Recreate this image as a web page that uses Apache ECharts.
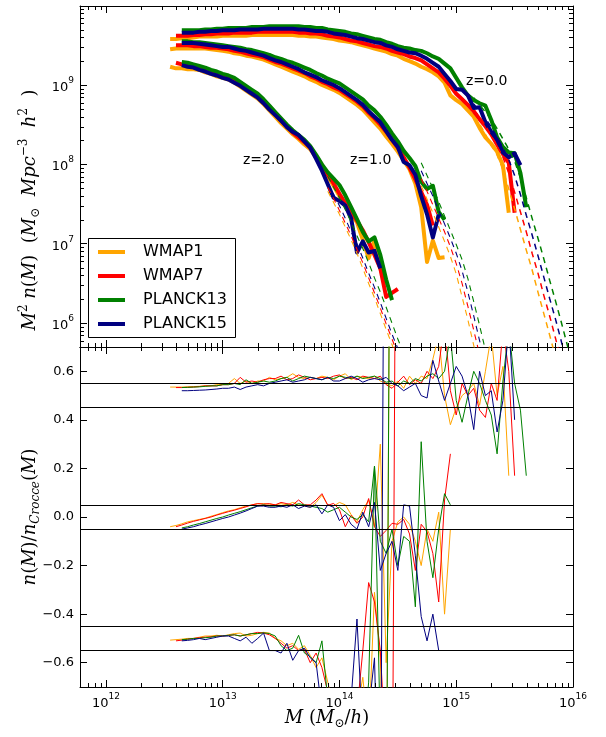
<!DOCTYPE html>
<html>
<head>
<meta charset="utf-8">
<script src="https://cdn.jsdelivr.net/npm/echarts@6/dist/echarts.min.js"></script>
<style>
  html, body { margin: 0; padding: 0; background: #fff; }
  #main { width: 606px; height: 737px; }
</style>
</head>
<body>
<div id="main"></div>
<script>
// mass bins, log10(M / (Msun/h))
var logM = [12.55,12.60,12.65,12.70,12.75,12.80,12.85,12.90,12.95,13.00,
  13.05,13.10,13.15,13.20,13.25,13.30,13.35,13.40,13.45,13.50,
  13.55,13.60,13.65,13.70,13.75,13.80,13.85,13.90,13.95,14.00,
  14.05,14.10,14.15,14.20,14.25,14.30,14.35,14.40,14.45,14.50,
  14.55,14.60,14.65,14.70,14.75,14.80,14.85,14.90,14.95,15.00,
  15.05,15.10,15.15,15.20,15.25,15.30,15.35,15.40,15.45,15.50,
  15.55,15.60,15.65,15.70,15.75,15.80,15.85,15.90,15.95,16.00];

var cosmologies = ['WMAP1', 'WMAP7', 'PLANCK13', 'PLANCK15'];
var colors = ['#ffa500', '#ff0000', '#008000', '#000080'];

// first bin index of each simulation curve (WMAP1, WMAP7, PLANCK13, PLANCK15)
var simStart = [0, 1, 2, 2];

// log10 of M^2 n(M), simulations, z = 0
var simZ0WMAP1 = [9.58,9.58,9.59,9.59,9.60,9.61,9.61,9.61,9.61,9.62,
  9.62,9.62,9.62,9.62,9.63,9.63,9.63,9.63,9.63,9.63,
  9.63,9.63,9.62,9.62,9.61,9.61,9.60,9.59,9.58,9.56,
  9.55,9.54,9.52,9.50,9.48,9.46,9.44,9.42,9.39,9.37,
  9.33,9.30,9.27,9.23,9.20,9.16,9.11,9.03,8.87,8.81,
  8.76,8.68,8.60,8.46,8.34,8.26,8.16,7.99,7.39];
var simZ0WMAP7 = [9.62,9.62,9.62,9.63,9.63,9.64,9.64,9.65,9.65,
  9.65,9.66,9.66,9.66,9.66,9.67,9.67,9.67,9.67,9.67,
  9.67,9.67,9.66,9.66,9.65,9.65,9.64,9.62,9.61,9.60,
  9.58,9.56,9.55,9.53,9.51,9.49,9.48,9.46,9.43,9.41,
  9.39,9.36,9.34,9.31,9.26,9.21,9.16,9.08,8.99,8.89,
  8.82,8.75,8.67,8.57,8.48,8.38,8.25,8.13,8.02,7.39];
var simZ0PLANCK13 = [9.69,9.69,9.69,9.69,9.70,9.70,9.71,9.71,
  9.72,9.72,9.72,9.72,9.73,9.73,9.73,9.74,9.74,9.74,
  9.74,9.74,9.74,9.73,9.73,9.72,9.72,9.70,9.69,9.68,
  9.67,9.65,9.64,9.62,9.60,9.58,9.57,9.54,9.52,9.49,
  9.47,9.46,9.44,9.43,9.40,9.36,9.33,9.27,9.21,9.09,
  8.97,8.87,8.81,8.77,8.74,8.56,8.34,8.22,8.15,8.14,
  7.89,7.46];
var simZ0PLANCK15 = [9.66,9.66,9.66,9.67,9.67,9.68,9.68,9.69,
  9.69,9.69,9.70,9.70,9.70,9.70,9.71,9.71,9.71,9.71,
  9.71,9.71,9.70,9.70,9.69,9.68,9.68,9.67,9.65,9.64,
  9.63,9.61,9.59,9.58,9.56,9.54,9.53,9.50,9.48,9.45,
  9.43,9.41,9.40,9.37,9.33,9.28,9.23,9.14,9.05,8.95,
  8.94,8.87,8.71,8.72,8.53,8.41,8.31,8.15,8.09,8.14,
  7.99];

// z = 1
var simZ1WMAP1 = [9.45,9.46,9.46,9.46,9.46,9.46,9.46,9.45,9.44,9.43,
  9.42,9.40,9.39,9.37,9.36,9.34,9.32,9.29,9.26,9.23,
  9.20,9.17,9.14,9.11,9.07,9.04,9.00,8.97,8.94,8.90,
  8.85,8.80,8.75,8.69,8.61,8.53,8.45,8.35,8.26,8.16,
  8.05,7.94,7.76,7.46,6.77,7.04,6.82,6.83];
var simZ1WMAP7 = [9.50,9.50,9.50,9.49,9.49,9.48,9.47,9.47,9.46,
  9.45,9.43,9.42,9.40,9.38,9.37,9.35,9.32,9.29,9.27,
  9.24,9.21,9.18,9.15,9.11,9.08,9.04,9.01,8.97,8.94,
  8.89,8.84,8.79,8.73,8.65,8.58,8.50,8.41,8.31,8.21,
  8.09,7.96,7.81,7.65,7.49,7.23];
var simZ1PLANCK13 = [9.55,9.55,9.54,9.54,9.53,9.52,9.51,9.50,
  9.49,9.48,9.47,9.45,9.44,9.42,9.40,9.38,9.35,9.33,
  9.30,9.28,9.25,9.22,9.19,9.15,9.12,9.08,9.05,9.02,
  8.97,8.92,8.87,8.82,8.74,8.68,8.60,8.50,8.39,8.29,
  8.17,8.08,7.98,7.78,7.69,7.73,7.40,7.30];
var simZ1PLANCK15 = [9.53,9.53,9.53,9.52,9.51,9.50,9.49,9.48,
  9.48,9.46,9.44,9.43,9.41,9.39,9.37,9.34,9.31,9.29,
  9.26,9.23,9.20,9.16,9.13,9.10,9.06,9.03,9.00,8.96,
  8.91,8.86,8.81,8.75,8.67,8.60,8.53,8.42,8.31,8.22,
  8.03,7.99,7.87,7.60,7.37,7.08,7.37];

// z = 2
var simZ2WMAP1 = [9.23,9.21,9.21,9.20,9.20,9.19,9.16,9.14,9.11,9.09,
  9.07,9.03,8.98,8.93,8.88,8.83,8.76,8.68,8.60,8.52,
  8.45,8.38,8.32,8.25,8.19,8.09,7.97,7.85,7.73,7.60,
  7.49,7.37,7.27,7.05,6.82,7.05,6.69,6.48];
var simZ2WMAP7 = [9.28,9.26,9.25,9.23,9.22,9.19,9.17,9.14,9.12,
  9.09,9.06,9.01,8.96,8.90,8.85,8.78,8.71,8.63,8.55,
  8.48,8.40,8.34,8.28,8.21,8.10,7.99,7.87,7.76,7.63,
  7.51,7.40,7.29,7.17,7.02,6.86,6.69,6.33,6.38,6.43];
var simZ2PLANCK13 = [9.29,9.28,9.26,9.24,9.22,9.19,9.17,9.14,
  9.12,9.09,9.04,8.99,8.94,8.89,8.82,8.74,8.66,8.58,
  8.50,8.43,8.37,8.31,8.23,8.12,8.00,7.90,7.82,7.74,
  7.61,7.46,7.31,7.15,7.03,7.08,6.86,6.55,6.29];
var simZ2PLANCK15 = [9.25,9.23,9.22,9.19,9.17,9.14,9.12,9.09,
  9.07,9.03,8.99,8.94,8.89,8.84,8.77,8.69,8.62,8.55,
  8.47,8.41,8.37,8.29,8.21,8.07,7.92,7.75,7.58,7.54,
  7.48,7.32,6.89,7.03,6.89,6.91,6.69];

// log10 of M^2 n(M), Crocce fit (dashed), first bin index per redshift
var fitStart = [52, 43, 27];
var fitZ0WMAP1 = [8.61,8.51,8.38,8.24,8.12,7.93,7.69,7.44,7.18,6.92,6.67,6.39,6.12,5.85,5.57,5.28,5.03];
var fitZ0WMAP7 = [8.68,8.60,8.49,8.36,8.23,8.09,7.89,7.65,7.40,7.15,6.88,6.63,6.35,6.09,5.81,5.52,5.24,4.99];
var fitZ0PLANCK13 = [8.84,8.75,8.66,8.57,8.45,8.32,8.19,8.04,7.83,7.58,7.32,7.07,6.81,6.54,6.28,6.01,5.73,5.45];
var fitZ0PLANCK15 = [8.76,8.67,8.58,8.47,8.34,8.21,8.06,7.86,7.62,7.36,7.11,6.85,6.58,6.31,6.05,5.77,5.48,5.22];
var fitZ1WMAP1 = [7.73,7.56,7.39,7.21,7.03,6.84,6.62,6.33,6.04,5.72,5.41];
var fitZ1WMAP7 = [7.82,7.66,7.49,7.32,7.15,6.96,6.75,6.50,6.21,5.91,5.60,5.28];
var fitZ1PLANCK13 = [8.02,7.86,7.70,7.53,7.35,7.17,6.99,6.80,6.56,6.27,5.97,5.66,5.34];
var fitZ1PLANCK15 = [7.92,7.76,7.60,7.42,7.25,7.07,6.88,6.66,6.39,6.09,5.78,5.47];
var fitZ2WMAP1 = [7.66,7.52,7.37,7.21,7.05,6.88,6.69,6.50,6.32,6.12,5.92,5.73,5.54,5.34];
var fitZ2WMAP7 = [7.71,7.57,7.42,7.26,7.10,6.93,6.76,6.57,6.38,6.19,5.99,5.80,5.61,5.41];
var fitZ2PLANCK13 = [7.85,7.71,7.58,7.43,7.27,7.10,6.94,6.76,6.57,6.39,6.20,6.00,5.80,5.61,5.42];
var fitZ2PLANCK15 = [7.76,7.62,7.48,7.32,7.15,7.00,6.82,6.63,6.45,6.26,6.06,5.86,5.68,5.48];

// lower panel: n/n_Crocce - 1, shifted by +0.5 (z=0), 0 (z=1), -0.5 (z=2)
var ratioZ0WMAP1 = [0.535,0.535,0.535,0.536,0.537,0.538,0.54,0.54,0.545,0.545,
  0.55,0.57,0.55,0.56,0.55,0.56,0.56,0.575,0.565,0.57,
  0.575,0.59,0.575,0.57,0.575,0.57,0.58,0.575,0.565,0.58,
  0.59,0.565,0.58,0.575,0.57,0.58,0.56,0.55,0.54,0.56,
  0.53,0.58,0.55,0.58,0.57,0.65,0.75,0.5,0.38,0.45,
  0.5,0.52,0.55,0.46,0.6,0.75,0.5,0.62,0.17];
var ratioZ0WMAP7 = [0.533,0.533,0.534,0.535,0.537,0.54,0.54,0.54,0.545,
  0.545,0.55,0.575,0.555,0.56,0.555,0.565,0.57,0.57,0.58,
  0.565,0.57,0.585,0.575,0.565,0.57,0.575,0.57,0.58,0.585,
  0.57,0.575,0.565,0.58,0.575,0.57,0.58,0.545,0.53,0.555,
  0.58,0.545,0.565,0.55,0.6,0.57,0.62,0.8,0.52,0.42,
  0.55,0.5,0.53,0.44,0.41,0.55,0.48,0.78,0.6,0.17];
var ratioZ0PLANCK13 = [0.533,0.534,0.535,0.536,0.538,0.54,0.54,0.545,
  0.545,0.55,0.545,0.565,0.55,0.555,0.56,0.555,0.56,0.57,
  0.575,0.56,0.57,0.58,0.575,0.57,0.565,0.575,0.57,0.58,
  0.575,0.57,0.58,0.57,0.575,0.58,0.57,0.555,0.56,0.54,
  0.56,0.55,0.57,0.56,0.58,0.59,0.57,0.6,0.75,0.48,
  0.39,0.5,0.6,0.55,0.48,0.42,0.26,0.56,0.78,0.55,
  0.44,0.17];
var ratioZ0PLANCK15 = [0.52,0.52,0.521,0.522,0.523,0.525,0.527,0.53,
  0.53,0.535,0.525,0.535,0.54,0.545,0.54,0.55,0.555,0.56,
  0.565,0.555,0.56,0.565,0.575,0.57,0.565,0.575,0.56,0.56,
  0.57,0.58,0.57,0.555,0.565,0.57,0.565,0.575,0.55,0.54,
  0.52,0.535,0.55,0.5,0.49,0.645,0.56,0.48,0.55,0.62,
  0.58,0.5,0.36,0.6,0.5,0.52,0.35,0.48,0.8,0.4];

var ratioZ1WMAP1 = [-0.04,-0.035,-0.028,-0.02,-0.015,-0.01,-0.005,0.003,0.01,0.018,
  0.025,0.03,0.038,0.045,0.05,0.055,0.055,0.053,0.05,0.055,
  0.05,0.06,0.05,0.045,0.04,0.06,0.09,0.05,0.045,0.06,
  0.05,0.01,-0.02,0.03,0.07,-0.04,0.3,-0.6,-0.1,-0.02,
  0.0,-0.03,-0.1,-0.2,-0.05,-0.1,0.02,-0.4,-0.05];
var ratioZ1WMAP7 = [-0.04,-0.033,-0.025,-0.018,-0.012,-0.006,0.0,0.008,0.015,
  0.022,0.028,0.035,0.042,0.05,0.055,0.053,0.055,0.05,0.06,
  0.055,0.05,0.07,0.05,0.05,0.07,0.096,0.048,0.056,0.03,
  -0.04,0.007,-0.026,0.0,0.076,-0.04,-0.08,-0.055,-0.026,-0.03,
  -0.01,-0.07,-0.22,-0.03,-0.06,-0.15,-0.35,0.07,0.26];
var ratioZ1PLANCK13 = [-0.045,-0.04,-0.033,-0.027,-0.02,-0.013,-0.006,0.0,
  0.008,0.015,0.022,0.03,0.038,0.045,0.05,0.045,0.045,0.042,
  0.05,0.045,0.055,0.05,0.045,0.04,0.035,0.02,0.03,0.04,
  0.02,0.0,-0.01,0.01,-0.02,0.21,-0.1,-0.15,-0.05,-0.2,
  -0.08,-0.1,-0.37,0.31,-0.1,-0.25,-0.05,0.096,0.05];
var ratioZ1PLANCK15 = [-0.05,-0.045,-0.04,-0.033,-0.027,-0.02,-0.013,-0.006,
  0.0,0.008,0.016,0.025,0.035,0.045,0.045,0.04,0.04,0.045,
  0.04,0.05,0.035,0.045,0.04,0.05,0.013,0.05,0.04,-0.015,
  0.01,-0.03,-0.05,0.02,-0.04,0.06,-0.22,-0.15,-0.1,-0.22,
  0.05,0.045,-0.16,-0.41,-0.51,-0.40,-0.55];

var ratioZ2WMAP1 = [-0.507,-0.505,-0.503,-0.50,-0.50,-0.495,-0.49,-0.49,-0.487,-0.49,
  -0.485,-0.48,-0.478,-0.49,-0.487,-0.48,-0.475,-0.478,-0.5,-0.51,
  -0.53,-0.52,-0.545,-0.53,-0.57,-0.62,-0.58,-0.68,-0.78,-0.9,
  -0.85,-0.95,-0.8,-0.66,-0.9,-0.31,-0.58,-1.5,3.0];
var ratioZ2WMAP7 = [-0.51,-0.507,-0.503,-0.50,-0.497,-0.495,-0.493,-0.49,-0.49,
  -0.488,-0.485,-0.49,-0.485,-0.48,-0.475,-0.478,-0.485,-0.5,-0.52,
  -0.54,-0.53,-0.55,-0.545,-0.6,-0.56,-0.62,-0.72,-0.9,-1.0,
  -0.9,-0.75,-0.8,-0.55,-0.27,-0.35,-0.55,-1.0,-1.5,3.0];
var ratioZ2PLANCK13 = [-0.505,-0.503,-0.50,-0.50,-0.497,-0.495,-0.49,-0.49,
  -0.487,-0.485,-0.49,-0.485,-0.48,-0.48,-0.477,-0.48,-0.49,-0.53,
  -0.55,-0.54,-0.487,-0.56,-0.575,-0.6,-0.51,-0.75,-0.95,-1.0,
  -0.9,-0.8,-0.85,-0.95,-0.68,0.21,-0.9,-1.5,3.0];
var ratioZ2PLANCK15 = [-0.51,-0.508,-0.505,-0.50,-0.505,-0.50,-0.495,-0.49,
  -0.49,-0.5,-0.51,-0.495,-0.52,-0.5,-0.478,-0.55,-0.55,-0.56,
  -0.52,-0.59,-0.55,-0.54,-0.58,-0.6,-0.8,-0.9,-1.0,-0.95,
  -0.9,-0.75,-0.42,-0.9,-0.8,-0.58,-1.5,3.0];

var refLevels = [0.55, 0.45, 0.05, -0.05, -0.45, -0.55];

var simCurves = [
  [simZ0WMAP1, simZ0WMAP7, simZ0PLANCK13, simZ0PLANCK15],
  [simZ1WMAP1, simZ1WMAP7, simZ1PLANCK13, simZ1PLANCK15],
  [simZ2WMAP1, simZ2WMAP7, simZ2PLANCK13, simZ2PLANCK15]
];
var fitCurves = [
  [fitZ0WMAP1, fitZ0WMAP7, fitZ0PLANCK13, fitZ0PLANCK15],
  [fitZ1WMAP1, fitZ1WMAP7, fitZ1PLANCK13, fitZ1PLANCK15],
  [fitZ2WMAP1, fitZ2WMAP7, fitZ2PLANCK13, fitZ2PLANCK15]
];
var ratioCurves = [
  [ratioZ0WMAP1, ratioZ0WMAP7, ratioZ0PLANCK13, ratioZ0PLANCK15],
  [ratioZ1WMAP1, ratioZ1WMAP7, ratioZ1PLANCK13, ratioZ1PLANCK15],
  [ratioZ2WMAP1, ratioZ2WMAP7, ratioZ2PLANCK13, ratioZ2PLANCK15]
];

function pts(start, vals, isLog) {
  return vals.map(function (v, i) {
    return [Math.pow(10, logM[start + i]), isLog ? Math.pow(10, v) : v];
  });
}

var myChart = echarts.init(document.getElementById('main'), null, { renderer: 'canvas' });

var FONT = 'DejaVu Sans';
var SERIF = 'DejaVu Serif';

function logLabel(v) {
  var e = Math.log10(v);
  if (Math.abs(e - Math.round(e)) > 1e-6) return '';
  return '{b|10}{s|' + Math.round(e) + '}';
}
var logRich = {
  b: { fontFamily: FONT, fontSize: 13, color: '#000', verticalAlign: 'bottom', lineHeight: 18 },
  s: { fontFamily: FONT, fontSize: 9, color: '#000', verticalAlign: 'top', lineHeight: 18 }
};
function linLabel(v) {
  return (v < 0 ? '\u2212' : '') + Math.abs(v).toFixed(1);
}

function xAxisCfg(grid, pos, labels) {
  return {
    type: 'log', logBase: 10, gridIndex: grid, position: pos,
    min: 6e11, max: 1e16,
    axisLine: { show: true, onZero: false, lineStyle: { color: '#000', width: 1 } },
    axisTick: { show: true, inside: true, length: 7, lineStyle: { color: '#000', width: 1 } },
    axisLabel: { show: labels, margin: 5, formatter: logLabel, rich: logRich },
    splitLine: { show: false }
  };
}
function yLogCfg(pos, labels) {
  return {
    type: 'log', logBase: 10, gridIndex: 0, position: pos,
    min: 5e5, max: 9.9e9,
    axisLine: { show: true, lineStyle: { color: '#000', width: 1 } },
    axisTick: { show: true, inside: true, length: 7, lineStyle: { color: '#000', width: 1 } },
    axisLabel: { show: labels, margin: 6, formatter: logLabel, rich: logRich },
    splitLine: { show: false }
  };
}
function yLinCfg(pos, labels) {
  return {
    type: 'value', gridIndex: 1, position: pos,
    min: -0.7, max: 0.7, splitNumber: 7,
    axisLine: { show: true, onZero: false, lineStyle: { color: '#000', width: 1 } },
    axisTick: { show: true, inside: true, length: 7, lineStyle: { color: '#000', width: 1 } },
    axisLabel: { show: labels, margin: 6, showMinLabel: false, showMaxLabel: false,
      formatter: linLabel, fontFamily: FONT, fontSize: 13, color: '#000' },
    splitLine: { show: false }
  };
}

// minor ticks on log axes (matplotlib style 2..9 x 10^n)
var xMinor = [];
var yMinor = [];
for (var e = 11; e <= 15; e++) {
  for (var m = 2; m <= 9; m++) {
    var v = m * Math.pow(10, e);
    if (v > 6e11 && v < 1e16) xMinor.push(v);
  }
}
for (var e2 = 5; e2 <= 9; e2++) {
  for (var m2 = 2; m2 <= 9; m2++) {
    var w = m2 * Math.pow(10, e2);
    if (w > 5e5 && w < 9.9e9) yMinor.push(w);
  }
}
function minorX(params, api) {
  var cs = params.coordSys;
  var x = Math.round(api.coord([api.value(0), api.value(1)])[0]) + 0.5;
  return { type: 'group', children: [
    { type: 'line', shape: { x1: x, y1: cs.y + cs.height, x2: x, y2: cs.y + cs.height - 4 }, style: { stroke: '#000', lineWidth: 1 } },
    { type: 'line', shape: { x1: x, y1: cs.y, x2: x, y2: cs.y + 4 }, style: { stroke: '#000', lineWidth: 1 } }
  ] };
}
function minorY(params, api) {
  var cs = params.coordSys;
  var y = Math.round(api.coord([api.value(0), api.value(1)])[1]) + 0.5;
  return { type: 'group', children: [
    { type: 'line', shape: { x1: cs.x, y1: y, x2: cs.x + 4, y2: y }, style: { stroke: '#000', lineWidth: 1 } },
    { type: 'line', shape: { x1: cs.x + cs.width, y1: y, x2: cs.x + cs.width - 4, y2: y }, style: { stroke: '#000', lineWidth: 1 } }
  ] };
}

var series = [];

series.push({
  type: 'line', xAxisIndex: 2, yAxisIndex: 2, data: [], symbol: 'none', silent: true,
  markLine: {
    silent: true, symbol: ['none', 'none'], label: { show: false },
    lineStyle: { color: '#000', width: 1, type: 'solid' },
    data: refLevels.map(function (r) { return { yAxis: r }; })
  }
});

for (var c = 0; c < 4; c++) {
  for (var z = 0; z < 3; z++) {
    series.push({
      type: 'line', name: cosmologies[c], xAxisIndex: 0, yAxisIndex: 0,
      data: pts(simStart[c], simCurves[z][c], true),
      symbol: 'none', silent: true, clip: true, z: 3,
      lineStyle: { color: colors[c], width: 4, join: 'round' }
    });
    series.push({
      type: 'line', name: cosmologies[c] + ' ratio', xAxisIndex: 2, yAxisIndex: 2,
      data: pts(simStart[c], ratioCurves[z][c], false),
      symbol: 'none', silent: true, clip: true, z: 3,
      lineStyle: { color: colors[c], width: 1, join: 'round' }
    });
  }
}
for (var c2 = 0; c2 < 4; c2++) {
  for (var z2 = 0; z2 < 3; z2++) {
    series.push({
      type: 'line', name: cosmologies[c2] + ' fit', xAxisIndex: 0, yAxisIndex: 0,
      data: pts(fitStart[z2], fitCurves[z2][c2], true),
      symbol: 'none', silent: true, clip: true, z: 4,
      lineStyle: { color: colors[c2], width: z2 === 0 ? 1.5 : 1.1, type: [6, 5] }
    });
  }
}

series.push({ type: 'custom', xAxisIndex: 0, yAxisIndex: 0, renderItem: minorX, silent: true, z: 5,
  data: xMinor.map(function (v) { return [v, 1e8]; }) });
series.push({ type: 'custom', xAxisIndex: 2, yAxisIndex: 2, renderItem: minorX, silent: true, z: 5,
  data: xMinor.map(function (v) { return [v, 0]; }) });
series.push({ type: 'custom', xAxisIndex: 0, yAxisIndex: 0, renderItem: minorY, silent: true, z: 5,
  data: yMinor.map(function (v) { return [1e13, v]; }) });

var mathRich = {
  m: { fontFamily: SERIF, fontStyle: 'italic', fontSize: 18, color: '#000', verticalAlign: 'middle' },
  r: { fontFamily: SERIF, fontSize: 18, color: '#000', verticalAlign: 'middle' },
  s: { fontFamily: SERIF, fontSize: 12, color: '#000', verticalAlign: 'top', lineHeight: 24 },
  d: { fontFamily: SERIF, fontStyle: 'italic', fontSize: 12, color: '#000', verticalAlign: 'bottom', lineHeight: 24 }
};

var legendGraphics = [{
  type: 'rect', shape: { x: 88.5, y: 238.5, width: 147, height: 99 },
  style: { fill: '#fff', stroke: '#000', lineWidth: 1 }, z: 20
}];
for (var li = 0; li < 4; li++) {
  var ly = 252 + li * 24;
  legendGraphics.push({
    type: 'line', shape: { x1: 98, y1: ly, x2: 125, y2: ly },
    style: { stroke: colors[li], lineWidth: 4 }, z: 21
  });
  legendGraphics.push({
    type: 'text', x: 143, y: ly,
    style: { text: cosmologies[li], fontFamily: FONT, fontSize: 16, fill: '#000', verticalAlign: 'middle', align: 'left' },
    z: 21
  });
}

var option = {
  animation: false,
  backgroundColor: '#fff',
  grid: [
    { left: 80, top: 6, width: 493, height: 341 },
    { left: 80, top: 347, width: 493, height: 340 }
  ],
  xAxis: [
    xAxisCfg(0, 'bottom', false),
    xAxisCfg(0, 'top', false),
    xAxisCfg(1, 'bottom', true),
    xAxisCfg(1, 'top', false)
  ],
  yAxis: [
    yLogCfg('left', true),
    yLogCfg('right', false),
    yLinCfg('left', true),
    yLinCfg('right', false)
  ],
  series: series,
  graphic: legendGraphics.concat([
    { type: 'text', x: 466, y: 81, style: { text: 'z=0.0', fontFamily: FONT, fontSize: 14, fill: '#000', verticalAlign: 'middle' }, z: 20 },
    { type: 'text', x: 350, y: 160, style: { text: 'z=1.0', fontFamily: FONT, fontSize: 14, fill: '#000', verticalAlign: 'middle' }, z: 20 },
    { type: 'text', x: 243, y: 160, style: { text: 'z=2.0', fontFamily: FONT, fontSize: 14, fill: '#000', verticalAlign: 'middle' }, z: 20 },
    { type: 'text', x: 30, y: 210, rotation: Math.PI / 2,
      style: { text: '{m|M}{s|2}{r| }{m|n}{r|(}{m|M}{r|)  (}{m|M}{d|\u2299}{r|  }{m|Mpc}{s|\u22123}{r|  }{m|h}{s|2}{r|  )}',
        rich: mathRich, align: 'center', verticalAlign: 'middle' }, z: 20 },
    { type: 'text', x: 30, y: 517, rotation: Math.PI / 2,
      style: { text: '{m|n}{r|(}{m|M}{r|)/}{m|n}{d|Crocce}{r|(}{m|M}{r|)}',
        rich: mathRich, align: 'center', verticalAlign: 'middle' }, z: 20 },
    { type: 'text', x: 327, y: 718,
      style: { text: '{m|M}{r| (}{m|M}{d|\u2299}{r|/}{m|h}{r|)}',
        rich: mathRich, align: 'center', verticalAlign: 'middle' }, z: 20 }
  ])
};

myChart.setOption(option);
</script>
</body>
</html>
